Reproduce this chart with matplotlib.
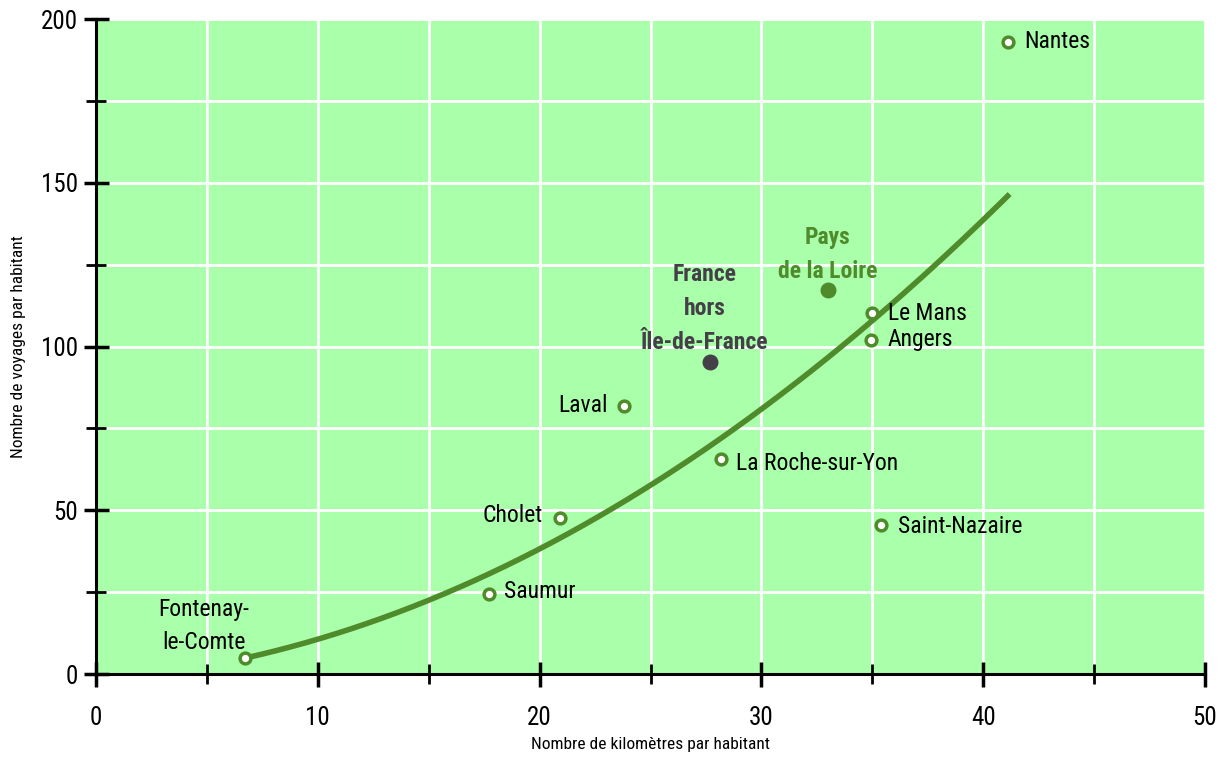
import matplotlib
matplotlib.use("Agg")
import matplotlib.pyplot as plt
import numpy as np

plt.rcParams['font.family'] = ['Roboto Condensed', 'DejaVu Sans']

# villes (km par habitant, voyages par habitant)
villes = ["Nantes", "Le Mans", "Angers", "La Roche-sur-Yon", "Saint-Nazaire",
          "Saumur", "Laval", "Cholet", "Fontenay-\nle-Comte"]
km = [41.1, 35.0, 34.95, 28.2, 35.4, 17.7, 23.8, 20.9, 6.7]
voyages = [193.0, 110.2, 102.0, 65.6, 45.5, 24.4, 81.8, 47.6, 4.9]

# references
pdl_km, pdl_voy = 33.0, 117.2
fr_km, fr_voy = 27.7, 95.3

# courbe de tendance
courbe_x = [6.7, 10, 15, 20, 25, 30, 35, 41.1]
courbe_y = [5.0, 10.5, 22.3, 38.3, 57.8, 81.0, 107.7, 146.0]

green = '#aaffaa'
dark = '#4f8a2b'
grey = '#444048'

fig = plt.figure(figsize=(12.29, 7.58), dpi=100)
ax = fig.add_axes([0.0781, 0.1108, 0.9024, 0.8641])
ax.set_facecolor(green)

ax.set_xlim(0, 50)
ax.set_ylim(0, 200)
ax.set_xticks([0, 10, 20, 30, 40, 50])
ax.set_xticks([5, 15, 25, 35, 45], minor=True)
ax.set_yticks([0, 50, 100, 150, 200])
ax.set_yticks([25, 75, 125, 175], minor=True)
ax.grid(True, which='both', color='white', linewidth=2)
ax.set_axisbelow(True)

for s in ['top', 'right']:
    ax.spines[s].set_visible(False)
for s in ['left', 'bottom']:
    ax.spines[s].set_linewidth(2.2)
ax.tick_params(which='major', direction='inout', length=18, width=2.5, labelsize=18, pad=4)
ax.tick_params(which='minor', direction='inout', length=14, width=2)
ax.tick_params(axis='x', which='major', pad=14)

ax.set_xlabel("Nombre de kilomètres par habitant", fontsize=12.5, labelpad=5)
ax.set_ylabel("Nombre de voyages par habitant", fontsize=12.5, labelpad=11)

# trend curve
coef = np.polyfit(courbe_x, courbe_y, 2)
xs = np.linspace(courbe_x[0], courbe_x[-1], 200)
ax.plot(xs, np.polyval(coef, xs), color=dark, linewidth=4, zorder=3)

ax.scatter(km, voyages, s=60, facecolor='white', edgecolor=dark, linewidth=2.5, zorder=4)
ax.scatter([pdl_km], [pdl_voy], s=110, color=dark, zorder=4)
ax.scatter([fr_km], [fr_voy], s=110, color=grey, zorder=4)

# labels
offsets = {
    "Nantes": (17, 0, 'left', 'center'),
    "Le Mans": (16, 0, 'left', 'center'),
    "Angers": (16, 0, 'left', 'center'),
    "La Roche-sur-Yon": (15, -4, 'left', 'center'),
    "Saint-Nazaire": (17, -1, 'left', 'center'),
    "Saumur": (15, 3, 'left', 'center'),
    "Laval": (-16, 1, 'right', 'center'),
    "Cholet": (-17, 3, 'right', 'center'),
    "Fontenay-\nle-Comte": (-41, 4, 'center', 'bottom'),
}
for v, x, y in zip(villes, km, voyages):
    dx, dy, ha, va = offsets[v]
    ax.annotate(v, (x, y), xytext=(dx, dy), textcoords='offset pixels',
                ha=ha, va=va, fontsize=17, color='black', linespacing=1.55, zorder=5)

ax.annotate("Pays\nde la Loire", (pdl_km, pdl_voy), xytext=(0, 7), textcoords='offset pixels',
            ha='center', va='bottom', fontsize=17, fontweight='bold', color=dark, linespacing=1.6)
ax.annotate("France\nhors\nÎle-de-France", (fr_km, fr_voy), xytext=(-6, 8), textcoords='offset pixels',
            ha='center', va='bottom', fontsize=17, fontweight='bold', color=grey, linespacing=1.6)

fig.savefig("out.png", dpi=100)
